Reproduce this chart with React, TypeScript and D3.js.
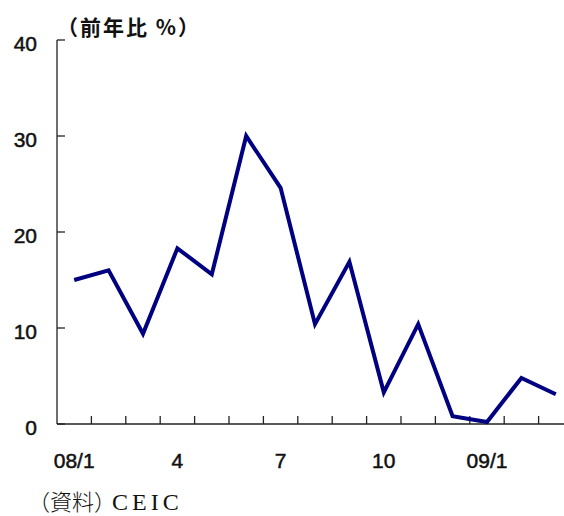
import React from "react";
import * as d3 from "d3";

const months = ["08/1","08/2","08/3","08/4","08/5","08/6","08/7","08/8","08/9","08/10","08/11","08/12","09/1","09/2","09/3"];
const values = [15.0, 16.0, 9.4, 18.3, 15.6, 30.0, 24.6, 10.4, 16.9, 3.3, 10.4, 0.8, 0.2, 4.8, 3.1];
const yTicks = [0, 10, 20, 30, 40];
const xLabels: [string, string][] = [["08/1","08/1"],["08/4","4"],["08/7","7"],["08/10","10"],["09/1","09/1"]];
const title = "（前年比 %）";
const sourceLabel = "（資料）";
const sourceName = "CEIC";

export default function App() {
  const W = 564, H = 516;
  const left = 57, top = 40, bottom = 424;
  const step = 34.4;
  const right = left + step * months.length;
  const x = d3.scaleBand<string>().domain(months).range([left, right]).padding(0);
  const y = d3.scaleLinear().domain([0, 40]).range([bottom, top]);
  const line = d3.line<number>()
    .x((_, i) => (x(months[i]) as number) + x.bandwidth() / 2)
    .y((d) => y(d));
  const sans = "'Liberation Sans', Arial, sans-serif";
  const cjk = "'Noto Sans CJK JP', sans-serif";
  const num = { fontFamily: sans, fontSize: 21, fill: "#111", stroke: "#111", strokeWidth: 0.5 };
  return (
    <svg width={W} height={H} style={{ position: "absolute", left: 0, top: 0, background: "#fff" }}>
      <text x={57} y={35} fontFamily={cjk} fontSize={21} fontWeight={700} letterSpacing={2} fill="#111">{title}</text>
      <line x1={left} x2={left} y1={top} y2={bottom} stroke="#222" strokeWidth={1.3} />
      <line x1={left} x2={right} y1={bottom} y2={bottom} stroke="#222" strokeWidth={1.3} />
      {yTicks.map((t) => (
        <g key={t}>
          <line x1={left} x2={left + 8} y1={y(t)} y2={y(t)} stroke="#222" strokeWidth={1.3} />
          <text x={37} y={y(t) + 11} textAnchor="end" {...num}>{t}</text>
        </g>
      ))}
      {months.map((m) => (
        <line key={m} x1={(x(m) as number) + step} x2={(x(m) as number) + step} y1={bottom} y2={bottom - 8} stroke="#222" strokeWidth={1.3} />
      ))}
      {xLabels.map(([m, lab]) => (
        <text key={m} x={(x(m) as number) + x.bandwidth() / 2} y={468} textAnchor="middle" {...num}>{lab}</text>
      ))}
      <path d={line(values) as string} fill="none" stroke="#000080" strokeWidth={4} strokeLinejoin="miter" />
      <text y={510} fill="#111">
        <tspan x={28} fontFamily={cjk} fontSize={22} fontWeight={300}>{sourceLabel}</tspan>
        <tspan x={112} fontFamily="'Liberation Serif', serif" fontSize={24} letterSpacing={4}>{sourceName}</tspan>
      </text>
    </svg>
  );
}
